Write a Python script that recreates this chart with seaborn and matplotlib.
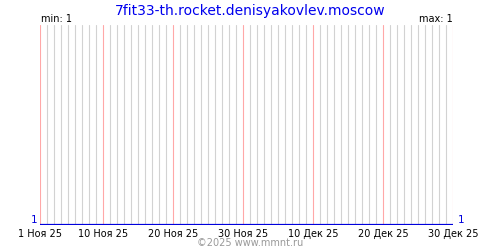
import matplotlib
matplotlib.use("Agg")
import matplotlib.pyplot as plt
import seaborn as sns
import pandas as pd

title = "7fit33-th.rocket.denisyakovlev.moscow"
start_date = "2025-11-01"
end_date = "2025-12-30"
dates = pd.date_range(start_date, end_date, freq="D")
values = [1] * len(dates)
tick_dates = ["2025-11-01", "2025-11-10", "2025-11-20", "2025-11-30",
              "2025-12-10", "2025-12-20", "2025-12-30"]
tick_labels = ["1 Ноя 25", "10 Ноя 25", "20 Ноя 25", "30 Ноя 25",
               "10 Дек 25", "20 Дек 25", "30 Дек 25"]
min_val = 1
max_val = 1

sns.set_theme(style="white")
plt.rcParams['font.family'] = ['DejaVu Sans']

fig = plt.figure(figsize=(5, 2.5), dpi=100)
ax = fig.add_axes([0.08, 0.1, 0.826, 0.8])

df = pd.DataFrame({"date": dates, "value": values})

tick_ts = pd.to_datetime(tick_dates)
for d in dates:
    col = "#ffa8a8" if d in tick_ts else "#d2d2d2"
    ax.axvline(d, color=col, lw=0.8, zorder=1, snap=True)

sns.lineplot(data=df, x="date", y="value", ax=ax, color="#0000dd", lw=1.6, zorder=3)

ax.set_xlim(dates[0], dates[-1])
ax.set_ylim(min_val, min_val + 1)
for s in ax.spines.values():
    s.set_visible(False)
ax.set_xlabel("")
ax.set_ylabel("")
ax.set_yticks([])
ax.set_xticks(tick_ts)
ax.set_xticklabels(tick_labels, fontsize=7, color="black")
ax.tick_params(axis="x", length=0, pad=3)
ax.grid(False)

ax.text(-0.007, 0.0, str(min_val), transform=ax.transAxes, ha="right", va="bottom",
        fontsize=7.5, color="#0000dd")
ax.text(1.012, 0.0, str(max_val), transform=ax.transAxes, ha="left", va="bottom",
        fontsize=7.5, color="#0000dd")

fig.text(0.5, 0.958, title, ha="center", va="center", fontsize=10, color="#0000ee")
fig.text(0.082, 0.925, f"min: {min_val}", ha="left", va="center", fontsize=7, color="black")
fig.text(0.906, 0.925, f"max: {max_val}", ha="right", va="center", fontsize=7, color="black")
fig.text(0.5, 0.028, "©2025 www.mmnt.ru", ha="center", va="center", fontsize=7, color="#999999")

fig.savefig("out.png", dpi=100, facecolor="white")
